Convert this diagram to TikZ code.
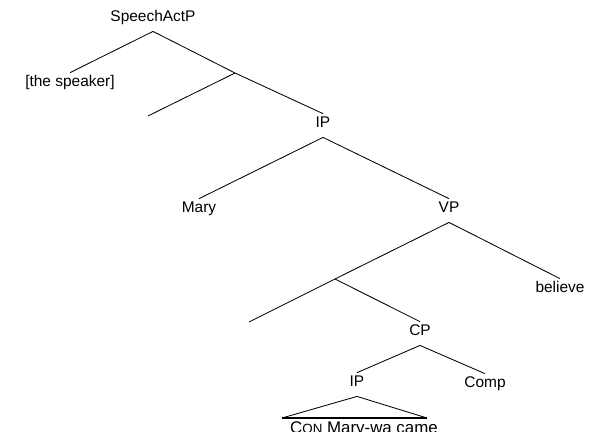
\documentclass[tikz,border=0pt]{standalone}
\usepackage{fontspec}
\setsansfont{Liberation Sans}
\definecolor{ink}{HTML}{000000}

\begin{document}
\begin{tikzpicture}[font=\sffamily\fontsize{11}{13}\selectfont,text=ink,
    lab/.style={inner xsep=0pt,inner ysep=2pt,text height=8pt,text depth=4.5pt,anchor=base},
    branch/.style={draw=ink,line width=.6pt}]
  \useasboundingbox (0,0) rectangle (14.9,10.8);
  % top layer
  \node[lab] (sap) at (3.825,10.25) {SpeechActP};
  \node[lab] (spk) at (1.75,8.625) {[the speaker]};
  \coordinate (sbar) at (5.875,8.975);
  \coordinate (sbarL) at (3.7,7.9);
  \draw[branch] (sap.south) -- (spk.north);
  \draw[branch] (sap.south) -- (sbar);
  \draw[branch] (sbar) -- (sbarL);
  % matrix clause
  \node[lab] (ip) at (8.075,7.6) {IP};
  \node[lab] (mary) at (4.975,5.475) {Mary};
  \node[lab] (vp) at (11.225,5.475) {VP};
  \draw[branch] (sbar) -- (ip.north);
  \draw[branch] (ip.south) -- (mary.north);
  \draw[branch] (ip.south) -- (vp.north);
  \node[lab] (bel) at (14.0,3.475) {believe};
  \coordinate (vbar) at (8.375,3.825);
  \coordinate (vbarL) at (6.225,2.75);
  \draw[branch] (vp.south) -- (bel.north);
  \draw[branch] (vp.south) -- (vbar);
  \draw[branch] (vbar) -- (vbarL);
  % embedded clause
  \node[lab] (cp) at (10.5,2.4) {CP};
  \node[lab] (ip2) at (8.925,1.125) {IP};
  \node[lab] (comp) at (12.125,1.1) {Comp};
  \draw[branch] (vbar) -- (cp.north);
  \draw[branch] (cp.south) -- (ip2.north);
  \draw[branch] (cp.south) -- (comp.north);
  \coordinate (triL) at (7.05,.35);
  \coordinate (triR) at (10.675,.35);
  \draw[branch] (triL) -- (ip2.south) -- (triR);
  \draw[ink,line width=1.4pt] (triL) -- (triR);
  \node[anchor=base,inner sep=0pt,font=\sffamily\fontsize{12}{14}\selectfont] (yield) at (9.1,-.05)
    {C{\fontsize{9.5}{11}\selectfont ON} Mary-wa came};
\end{tikzpicture}
\end{document}
